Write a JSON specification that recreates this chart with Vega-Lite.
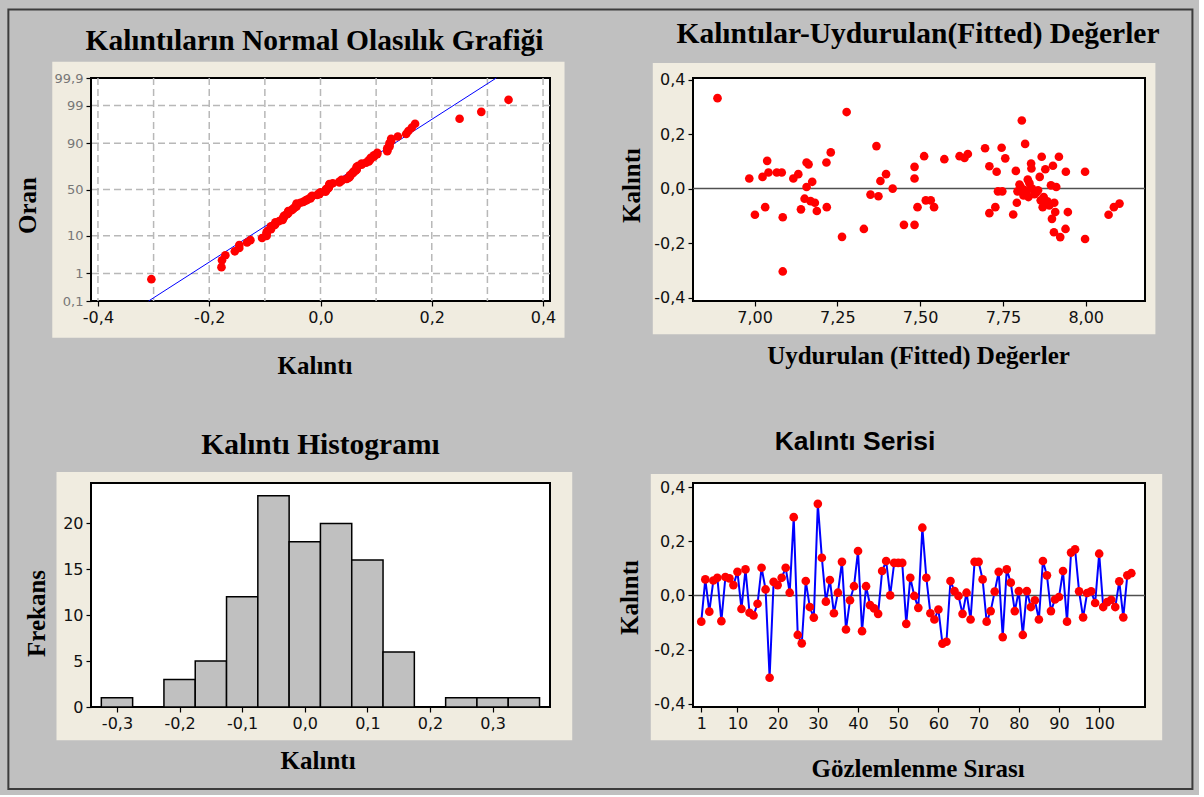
{
"$schema": "https://vega.github.io/schema/vega-lite/v6.json",
"background": "#C0C0C0",
"padding": {"left": 7, "top": 8, "right": 5, "bottom": 5},
"autosize": {"type": "pad"},
"datasets": {
"res": [{"i":1,"r":-0.097},{"i":2,"r":0.059},{"i":3,"r":-0.060},{"i":4,"r":0.055},{"i":5,"r":0.065},{"i":6,"r":-0.095},{"i":7,"r":0.068},{"i":8,"r":0.063},{"i":9,"r":0.038},{"i":10,"r":0.087},{"i":11,"r":-0.050},{"i":12,"r":0.096},{"i":13,"r":-0.064},{"i":14,"r":-0.074},{"i":15,"r":-0.031},{"i":16,"r":0.102},{"i":17,"r":0.022},{"i":18,"r":-0.304},{"i":19,"r":0.050},{"i":20,"r":0.038},{"i":21,"r":0.065},{"i":22,"r":0.102},{"i":23,"r":0.010},{"i":24,"r":0.289},{"i":25,"r":-0.146},{"i":26,"r":-0.177},{"i":27,"r":0.053},{"i":28,"r":-0.043},{"i":29,"r":-0.082},{"i":30,"r":0.338},{"i":31,"r":0.139},{"i":32,"r":-0.023},{"i":33,"r":0.057},{"i":34,"r":-0.066},{"i":35,"r":0.010},{"i":36,"r":0.124},{"i":37,"r":-0.126},{"i":38,"r":-0.018},{"i":39,"r":0.034},{"i":40,"r":0.164},{"i":41,"r":-0.132},{"i":42,"r":0.034},{"i":43,"r":-0.036},{"i":44,"r":-0.048},{"i":45,"r":-0.068},{"i":46,"r":0.090},{"i":47,"r":0.127},{"i":48,"r":0.000},{"i":49,"r":0.120},{"i":50,"r":0.120},{"i":51,"r":0.120},{"i":52,"r":-0.105},{"i":53,"r":0.065},{"i":54,"r":-0.002},{"i":55,"r":-0.046},{"i":56,"r":0.250},{"i":57,"r":0.065},{"i":58,"r":-0.066},{"i":59,"r":-0.089},{"i":60,"r":-0.052},{"i":61,"r":-0.178},{"i":62,"r":-0.171},{"i":63,"r":0.053},{"i":64,"r":0.016},{"i":65,"r":-0.002},{"i":66,"r":-0.068},{"i":67,"r":0.010},{"i":68,"r":-0.089},{"i":69,"r":0.124},{"i":70,"r":0.124},{"i":71,"r":0.059},{"i":72,"r":-0.097},{"i":73,"r":-0.058},{"i":74,"r":0.014},{"i":75,"r":0.087},{"i":76,"r":-0.154},{"i":77,"r":0.096},{"i":78,"r":0.047},{"i":79,"r":-0.058},{"i":80,"r":0.016},{"i":81,"r":-0.146},{"i":82,"r":0.016},{"i":83,"r":-0.043},{"i":84,"r":-0.018},{"i":85,"r":-0.089},{"i":86,"r":0.127},{"i":87,"r":0.074},{"i":88,"r":-0.058},{"i":89,"r":-0.015},{"i":90,"r":-0.006},{"i":91,"r":0.090},{"i":92,"r":-0.097},{"i":93,"r":0.158},{"i":94,"r":0.170},{"i":95,"r":0.015},{"i":96,"r":-0.081},{"i":97,"r":0.009},{"i":98,"r":0.015},{"i":99,"r":-0.028},{"i":100,"r":0.154},{"i":101,"r":-0.043},{"i":102,"r":-0.025},{"i":103,"r":-0.016},{"i":104,"r":-0.043},{"i":105,"r":0.052},{"i":106,"r":-0.081},{"i":107,"r":0.074},{"i":108,"r":0.082}],
"fit": [{"f":6.888,"r":0.332},{"f":6.984,"r":0.037},{"f":7.001,"r":-0.096},{"f":7.024,"r":0.043},{"f":7.032,"r":-0.068},{"f":7.038,"r":0.102},{"f":7.042,"r":0.059},{"f":7.067,"r":0.059},{"f":7.082,"r":0.059},{"f":7.085,"r":-0.105},{"f":7.085,"r":-0.304},{"f":7.117,"r":0.037},{"f":7.132,"r":0.053},{"f":7.140,"r":-0.076},{"f":7.151,"r":-0.037},{"f":7.157,"r":0.096},{"f":7.163,"r":0.089},{"f":7.157,"r":0.006},{"f":7.174,"r":0.025},{"f":7.169,"r":-0.046},{"f":7.182,"r":-0.052},{"f":7.188,"r":-0.082},{"f":7.217,"r":0.096},{"f":7.218,"r":-0.068},{"f":7.230,"r":0.133},{"f":7.264,"r":-0.177},{"f":7.278,"r":0.281},{"f":7.330,"r":-0.148},{"f":7.350,"r":-0.022},{"f":7.368,"r":0.156},{"f":7.374,"r":-0.028},{"f":7.380,"r":0.028},{"f":7.397,"r":0.053},{"f":7.417,"r":0.000},{"f":7.451,"r":-0.133},{"f":7.483,"r":-0.133},{"f":7.483,"r":0.037},{"f":7.483,"r":0.080},{"f":7.492,"r":-0.068},{"f":7.512,"r":0.119},{"f":7.517,"r":-0.043},{"f":7.532,"r":-0.043},{"f":7.542,"r":-0.068},{"f":7.573,"r":0.108},{"f":7.619,"r":0.119},{"f":7.634,"r":0.113},{"f":7.644,"r":0.127},{"f":7.696,"r":0.148},{"f":7.709,"r":0.082},{"f":7.709,"r":-0.090},{"f":7.727,"r":-0.068},{"f":7.731,"r":0.062},{"f":7.735,"r":-0.010},{"f":7.746,"r":0.150},{"f":7.748,"r":-0.010},{"f":7.757,"r":0.111},{"f":7.781,"r":-0.095},{"f":7.789,"r":0.065},{"f":7.792,"r":-0.052},{"f":7.794,"r":-0.010},{"f":7.804,"r":0.006},{"f":7.807,"r":0.250},{"f":7.812,"r":-0.025},{"f":7.817,"r":0.164},{"f":7.821,"r":-0.010},{"f":7.825,"r":0.033},{"f":7.827,"r":-0.031},{"f":7.835,"r":0.092},{"f":7.836,"r":0.074},{"f":7.838,"r":0.000},{"f":7.850,"r":-0.015},{"f":7.856,"r":-0.006},{"f":7.861,"r":0.043},{"f":7.864,"r":-0.043},{"f":7.867,"r":0.117},{"f":7.870,"r":-0.068},{"f":7.873,"r":-0.031},{"f":7.878,"r":0.071},{"f":7.884,"r":-0.047},{"f":7.890,"r":-0.062},{"f":7.895,"r":0.012},{"f":7.898,"r":-0.111},{"f":7.901,"r":0.084},{"f":7.905,"r":-0.052},{"f":7.904,"r":-0.160},{"f":7.908,"r":-0.086},{"f":7.911,"r":0.006},{"f":7.919,"r":0.117},{"f":7.923,"r":-0.178},{"f":7.939,"r":-0.148},{"f":7.940,"r":0.062},{"f":7.946,"r":-0.086},{"f":7.998,"r":0.062},{"f":7.998,"r":-0.185},{"f":8.069,"r":-0.096},{"f":8.085,"r":-0.068},{"f":8.102,"r":-0.055},{"f":7.800,"r":0.015},{"f":7.815,"r":-0.005},{"f":7.830,"r":0.020},{"f":7.845,"r":-0.020},{"f":7.875,"r":-0.055}],
"hist": [{"lo":-0.325,"hi":-0.275,"n":1},{"lo":-0.275,"hi":-0.225,"n":0},{"lo":-0.225,"hi":-0.175,"n":3},{"lo":-0.175,"hi":-0.125,"n":5},{"lo":-0.125,"hi":-0.075,"n":12},{"lo":-0.075,"hi":-0.025,"n":23},{"lo":-0.025,"hi":0.025,"n":18},{"lo":0.025,"hi":0.075,"n":20},{"lo":0.075,"hi":0.125,"n":16},{"lo":0.125,"hi":0.175,"n":6},{"lo":0.175,"hi":0.225,"n":0},{"lo":0.225,"hi":0.275,"n":1},{"lo":0.275,"hi":0.325,"n":1},{"lo":0.325,"hi":0.375,"n":1}]
},
"config": {
"view": {"stroke": null},
"axis": {"domain": false, "grid": false, "tickCount": 30, "tickColor": "black", "tickSize": 5, "tickWidth": 1.2, "labelFont": "DejaVu Sans", "labelFontSize": 16, "labelColor": "#111111", "labelPadding": 3, "labelOverlap": false, "labelFlush": false, "titleFont": "Liberation Serif", "titleFontSize": 25, "titleFontWeight": "bold", "titleColor": "black", "titleAlign": "center", "titleBaseline": "middle"},
"axisLeft": {"titleAngle": 270}
},
"bounds": "flush",
"columns": 2,
"spacing": {"row": 182, "column": 143},
"concat": [
{
"width": 459, "height": 223,
"title": {"text": "Kalıntıların Normal Olasılık Grafiği", "font": "Liberation Serif", "fontSize": 29.5, "fontWeight": "bold", "color": "black", "anchor": "middle", "frame": "group", "baseline": "middle", "offset": -9, "dx": -6},
"layer": [
{"data": {"values": [{}]}, "mark": {"type": "rect", "fill": "#F0ECE0"},
 "encoding": {
  "x": {"datum": -0.4821, "type": "quantitative", "scale": {"domain": [-0.4125, 0.4125], "nice": false, "zero": false},
        "axis": {"zindex": 1, "tickCount": 30, "labelOverlap": false, "values": [-0.4, -0.2, 0, 0.2, 0.4], "labelExpr": "(datum.value < -1e-9 ? '-' : '') + replace(format(abs(datum.value), '.1f'), '.', ',')", "title": "Kalıntı", "titleX": 223.5, "titleY": 64}},
  "x2": {"datum": 0.4386},
  "y": {"datum": -4.107, "type": "quantitative", "scale": {"domain": [-3.0902, 3.0902], "nice": false, "zero": false},
        "axis": {"zindex": 1, "tickCount": 30, "labelOverlap": false, "values": [-3.0902, -2.3263, -1.2816, 0, 1.2816, 2.3263, 3.0902], "labelExpr": "datum.value < -3 ? '0,1' : datum.value < -2 ? '1' : datum.value < -1 ? '10' : datum.value < 1 ? '50' : datum.value < 2 ? '90' : datum.value < 3 ? '99' : '99,9'", "labelColor": "#777777", "labelFontSize": 13, "title": "Oran", "titleX": -64, "titleY": 127}},
  "y2": {"datum": 3.542}}},
{"data": {"values": [{}]}, "mark": {"type": "rect", "fill": "white", "stroke": "black", "strokeWidth": 2},
 "encoding": {"x": {"datum": -0.4125, "type": "quantitative"}, "x2": {"datum": 0.4125}, "y": {"datum": -3.0902, "type": "quantitative"}, "y2": {"datum": 3.0902}}},
{"data": {"values": [{"g": -0.3}, {"g": -0.2}, {"g": -0.1}, {"g": 0}, {"g": 0.1}, {"g": 0.2}, {"g": 0.3}, {"g": -0.4}, {"g": 0.4}]},
 "mark": {"type": "rule", "color": "#B8B8B8", "strokeWidth": 1.5, "strokeDash": [7, 4]},
 "encoding": {"x": {"field": "g", "type": "quantitative"}}},
{"data": {"values": [{"g": -2.3263}, {"g": -1.2816}, {"g": 0}, {"g": 1.2816}, {"g": 2.3263}]},
 "mark": {"type": "rule", "color": "#B8B8B8", "strokeWidth": 1.5, "strokeDash": [7, 4]},
 "encoding": {"y": {"field": "g", "type": "quantitative"}}},
{"data": {"values": [{"z": -3.0902, "r": -0.309}, {"z": 3.0902, "r": 0.316}]},
 "mark": {"type": "line", "color": "#0000FF", "strokeWidth": 1},
 "encoding": {"x": {"field": "r", "type": "quantitative"}, "y": {"field": "z", "type": "quantitative"}}},
{"data": {"name": "res"},
 "transform": [
  {"joinaggregate": [{"op": "count", "field": "r", "as": "n"}]},
  {"window": [{"op": "row_number", "as": "k"}], "sort": [{"field": "r", "order": "ascending"}]},
  {"calculate": "quantileNormal((datum.k - 0.3) / (datum.n + 0.4))", "as": "z"}
 ],
 "mark": {"type": "circle", "color": "#FF0000", "size": 75, "opacity": 1},
 "encoding": {"x": {"field": "r", "type": "quantitative"}, "y": {"field": "z", "type": "quantitative"}}}
]
},
{
"width": 452, "height": 223,
"title": {"text": "Kalıntılar-Uydurulan(Fitted)  Değerler", "font": "Liberation Serif", "fontSize": 29.5, "fontWeight": "bold", "color": "black", "anchor": "middle", "frame": "group", "baseline": "middle", "offset": 0, "dx": -1},
"layer": [
{"data": {"values": [{}]}, "mark": {"type": "rect", "fill": "#F0ECE0"},
 "encoding": {
  "x": {"datum": 6.6926, "type": "quantitative", "scale": {"domain": [6.814, 8.179], "nice": false, "zero": false},
        "axis": {"zindex": 1, "tickCount": 30, "labelOverlap": false, "values": [7, 7.25, 7.5, 7.75, 8], "labelExpr": "replace(format(datum.value, '.2f'), '.', ',')", "title": "Uydurulan (Fitted) Değerler", "titleX": 225, "titleY": 54}},
  "x2": {"datum": 8.2104},
  "y": {"datum": -0.5347, "type": "quantitative", "scale": {"domain": [-0.4125, 0.406], "nice": false, "zero": false},
        "axis": {"zindex": 1, "tickCount": 30, "labelOverlap": false, "values": [-0.4, -0.2, 0, 0.2, 0.4], "labelExpr": "(datum.value < -1e-9 ? '-' : '') + replace(format(abs(datum.value), '.1f'), '.', ',')", "title": "Kalıntı", "titleX": -62, "titleY": 107}},
  "y2": {"datum": 0.461}}},
{"data": {"values": [{}]}, "mark": {"type": "rect", "fill": "white", "stroke": "black", "strokeWidth": 2},
 "encoding": {"x": {"datum": 6.814, "type": "quantitative"}, "x2": {"datum": 8.179}, "y": {"datum": -0.4125, "type": "quantitative"}, "y2": {"datum": 0.406}}},
{"data": {"values": [{}]}, "mark": {"type": "rule", "color": "#505050", "strokeWidth": 1.5},
 "encoding": {"y": {"datum": 0, "type": "quantitative"}}},
{"data": {"name": "fit"},
 "mark": {"type": "circle", "color": "#FF0000", "size": 75, "opacity": 1},
 "encoding": {"x": {"field": "f", "type": "quantitative"}, "y": {"field": "r", "type": "quantitative"}}}
]
},
{
"width": 459, "height": 224,
"title": {"text": "Kalıntı Histogramı", "font": "Liberation Serif", "fontSize": 29.5, "fontWeight": "bold", "color": "black", "anchor": "middle", "frame": "group", "baseline": "middle", "offset": -2, "dx": 0},
"layer": [
{"data": {"values": [{}]}, "mark": {"type": "rect", "fill": "#F0ECE0"},
 "encoding": {
  "x": {"datum": -0.3966, "type": "quantitative", "scale": {"domain": [-0.3415, 0.3917], "nice": false, "zero": false},
        "axis": {"zindex": 1, "tickCount": 30, "labelOverlap": false, "values": [-0.3, -0.2, -0.1, 0, 0.1, 0.2, 0.3], "labelExpr": "(datum.value < -1e-9 ? '-' : '') + replace(format(abs(datum.value), '.1f'), '.', ',')", "title": "Kalıntı", "titleX": 226.6, "titleY": 53}},
  "x2": {"datum": 0.4272},
  "y": {"datum": -3.627, "type": "quantitative", "scale": {"domain": [0, 24.4], "nice": false, "zero": false},
        "axis": {"zindex": 1, "tickCount": 30, "labelOverlap": false, "values": [0, 5, 10, 15, 20], "title": "Frekans", "titleX": -55, "titleY": 130}},
  "y2": {"datum": 25.598}}},
{"data": {"values": [{}]}, "mark": {"type": "rect", "fill": "white", "stroke": "black", "strokeWidth": 2},
 "encoding": {"x": {"datum": -0.3415, "type": "quantitative"}, "x2": {"datum": 0.3917}, "y": {"datum": 0, "type": "quantitative"}, "y2": {"datum": 24.4}}},
{"data": {"name": "hist"},
 "mark": {"type": "rect", "fill": "#C0C0C0", "stroke": "black", "strokeWidth": 1.5},
 "encoding": {"x": {"field": "lo", "type": "quantitative"}, "x2": {"field": "hi"}, "y": {"field": "n", "type": "quantitative"}, "y2": {"datum": 0}}}
]
},
{
"width": 452, "height": 224,
"title": {"text": "Kalıntı Serisi", "font": "Liberation Sans", "fontSize": 26.5, "fontWeight": "bold", "color": "black", "anchor": "middle", "frame": "group", "baseline": "middle", "offset": -460, "dx": -64},
"layer": [
{"data": {"values": [{}]}, "mark": {"type": "rect", "fill": "#F0ECE0"},
 "encoding": {
  "x": {"datum": -11.56, "type": "quantitative", "scale": {"domain": [-1.06, 111.4], "nice": false, "zero": false},
        "axis": {"zindex": 1, "tickCount": 30, "labelOverlap": false, "values": [1, 10, 20, 30, 40, 50, 60, 70, 80, 90, 100], "title": "Gözlemlenme Sırası", "titleX": 224.6, "titleY": 61}},
  "x2": {"datum": 115.68},
  "y": {"datum": -0.5349, "type": "quantitative", "scale": {"domain": [-0.412, 0.415], "nice": false, "zero": false},
        "axis": {"zindex": 1, "tickCount": 30, "labelOverlap": false, "values": [-0.4, -0.2, 0, 0.2, 0.4], "labelExpr": "(datum.value < -1e-9 ? '-' : '') + replace(format(abs(datum.value), '.1f'), '.', ',')", "title": "Kalıntı", "titleX": -64, "titleY": 114}},
  "y2": {"datum": 0.4482}}},
{"data": {"values": [{}]}, "mark": {"type": "rect", "fill": "white", "stroke": "black", "strokeWidth": 2},
 "encoding": {"x": {"datum": -1.06, "type": "quantitative"}, "x2": {"datum": 111.4}, "y": {"datum": -0.412, "type": "quantitative"}, "y2": {"datum": 0.415}}},
{"data": {"values": [{}]}, "mark": {"type": "rule", "color": "#505050", "strokeWidth": 1.5},
 "encoding": {"y": {"datum": 0, "type": "quantitative"}}},
{"data": {"name": "res"},
 "mark": {"type": "line", "color": "#0000FF", "strokeWidth": 2},
 "encoding": {"x": {"field": "i", "type": "quantitative"}, "y": {"field": "r", "type": "quantitative"}}},
{"data": {"name": "res"},
 "mark": {"type": "circle", "color": "#FF0000", "size": 75, "opacity": 1},
 "encoding": {"x": {"field": "i", "type": "quantitative"}, "y": {"field": "r", "type": "quantitative"}}},
{"data": {"values": [{}]}, "mark": {"type": "rect", "fill": "white", "fillOpacity": 0, "stroke": "#3C3C3C", "strokeWidth": 2},
 "encoding": {"x": {"datum": -171.4, "type": "quantitative"}, "x2": {"datum": 123.2}, "y": {"datum": -0.7146, "type": "quantitative"}, "y2": {"datum": 2.1636}}}
]
}
]
}
